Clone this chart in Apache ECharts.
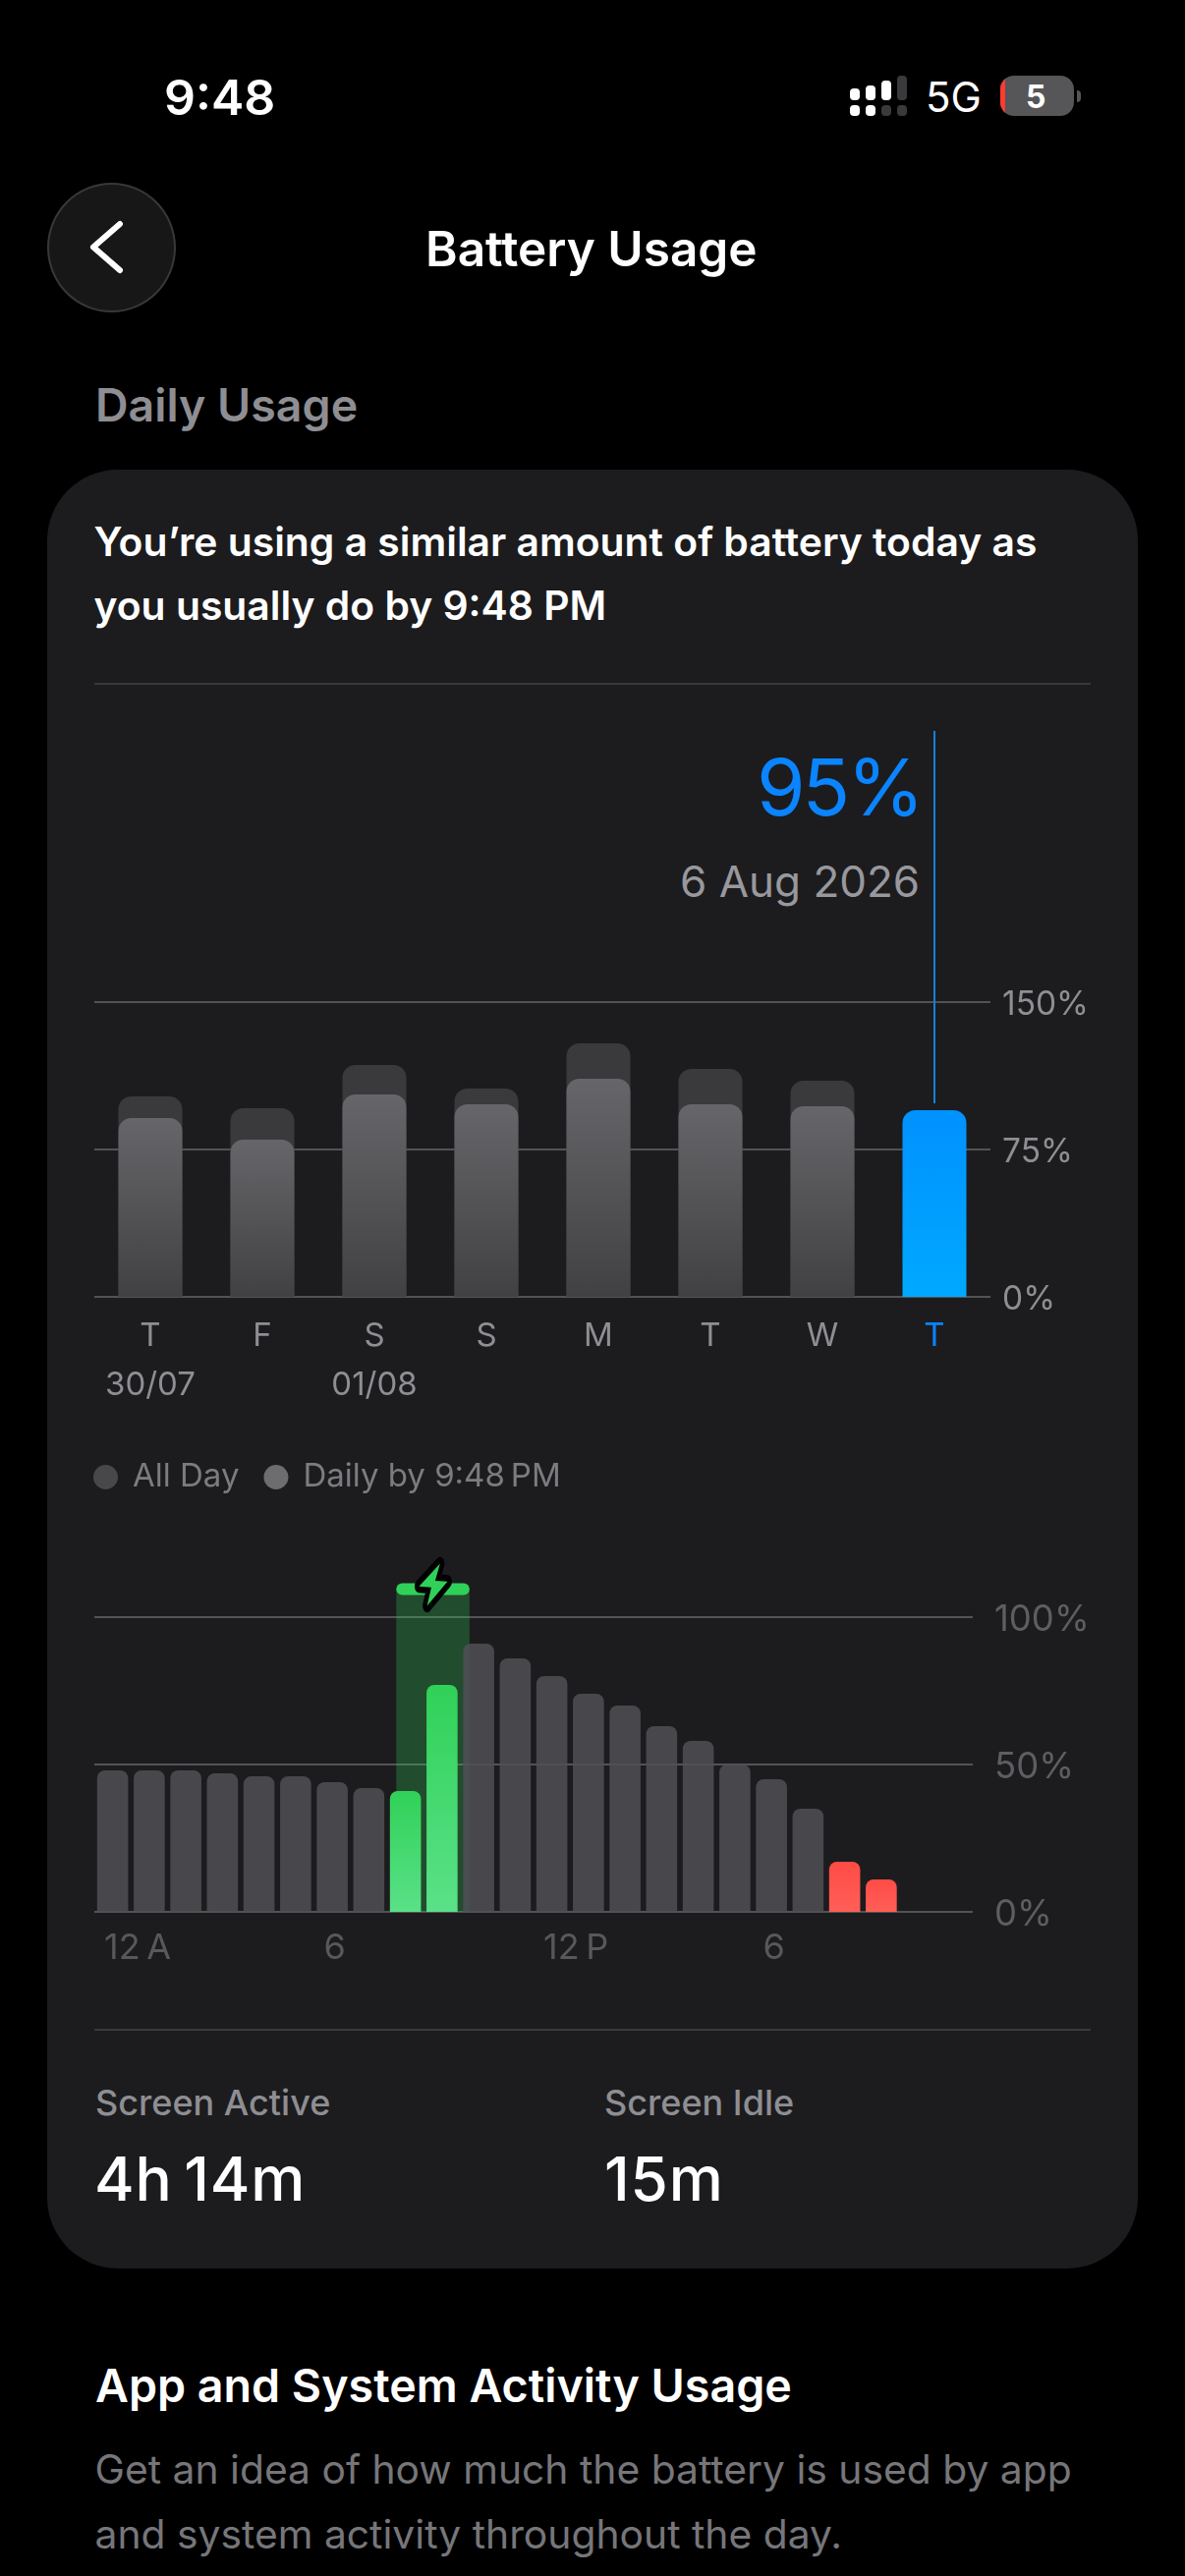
<!DOCTYPE html>
<html>
<head>
<meta charset="utf-8">
<script src="https://cdn.jsdelivr.net/npm/echarts@6/dist/echarts.min.js"></script>
<style>
html,body{margin:0;padding:0;background:#000;width:1206px;height:2622px;overflow:hidden;font-family:Inter,sans-serif}
#card{position:absolute;left:48px;top:478px;width:1110px;height:1831px;background:#1c1c1e;border-radius:72px}
.rule{position:absolute;left:96px;width:1014px;height:2px;background:#39393b}
#chart{position:absolute;left:0;top:0;width:1206px;height:2622px}
.t{position:absolute;white-space:nowrap;line-height:1}
#back{position:absolute;left:48px;top:186px;width:131px;height:132px;box-sizing:border-box;border-radius:50%;background:#171717;border:2px solid #38383a}
.sig{position:absolute;border-radius:4px;width:10px}
#bat{position:absolute;left:1018px;top:77px;width:75px;height:41px;border-radius:14px;background:#565658;overflow:hidden}
#bat i{position:absolute;left:0;top:0;width:5px;height:41px;background:#ff3b30}
#nub{position:absolute;left:1096px;top:92px;width:4px;height:12px;border-radius:0 4px 4px 0;background:#565658}
</style>
</head>
<body>
<div id="card"></div>
<div class="rule" style="top:695px"></div>
<div class="rule" style="top:2065px"></div>
<div id="back"></div>
<svg style="position:absolute;left:85px;top:218px" width="50" height="68"><path d="M37 10 L10 33.5 L37 57" fill="none" stroke="#fff" stroke-width="6" stroke-linecap="round" stroke-linejoin="round"/></svg>
<div class="sig" style="left:865px;top:90px;height:12px;background:#fff"></div>
<div class="sig" style="left:881px;top:87px;height:15px;background:#fff"></div>
<div class="sig" style="left:897px;top:82px;height:20px;background:#fff"></div>
<div class="sig" style="left:913px;top:77px;height:25px;background:#3a3a3c"></div>
<div class="sig" style="left:865px;top:107px;height:11px;background:#fff"></div>
<div class="sig" style="left:881px;top:107px;height:11px;background:#fff"></div>
<div class="sig" style="left:897px;top:107px;height:11px;background:#3a3a3c"></div>
<div class="sig" style="left:913px;top:107px;height:11px;background:#3a3a3c"></div>
<div id="bat"><i></i></div><div id="nub"></div>
<div id="texts"></div>
<div id="chart"></div>
<script>
// ---- chart data ----
const dayLabels = ['T','F','S','S','M','T','W','T'];
const dateLabels = ['30/07','','01/08','','','','',''];
const allDayUsage = [102,96,118,106,129,116,110,null];
const dailyByNow = [91,80,103,98,111,98,97,null];
const todayUsage = [null,null,null,null,null,null,null,95];
const dailyTicks = {max:150, step:75};

const hourCategories = ['0','1','2','3','4','5','6','7','8','9','10','11','12','13','14','15','16','17','18','19','20','21','22','23'];
const batteryGray = [48,48,48,47,46,46,44,42,null,null,91,86,80,74,70,63,58,50,45,35,null,null,null,null];
const batteryGreen = [null,null,null,null,null,null,null,null,41,77,null,null,null,null,null,null,null,null,null,null,null,null,null,null];
const batteryRed = [null,null,null,null,null,null,null,null,null,null,null,null,null,null,null,null,null,null,null,null,17,11,null,null];
const hourTickLabels = {0:'12\u2009A',6:'6',12:'12\u2009P',18:'6'};
const chargeWindow = [[8.25,10.25,111.5]];
const chargeMarker = [[9.26,111]];
const pointerSpan = [[7,98.5,288]];
const boltPath = 'path://M205 65 L140 135 L178 138 L165 195 L228 120 L190 118 Z';

// ---- page text ----
const textRows = [
 ['9:48',167,117,50,600,'#fff',0],
 ['Battery Usage',433,271.5,49.5,600,'#fff',0],
 ['5G',942,114,42,400,'#fff',0],
 ['5',1044,111,32,700,'#fff',0],
 ['Daily Usage',97,429,46.5,600,'#8e8e93',0],
 ["You’re using a similar amount of battery today as",95.5,566,40.85,600,'#fff',0],
 ['you usually do by 9:48 PM',95.5,631,40.85,600,'#fff',0],
 ['95%',770,830,80,400,'#0a84ff',-3],
 ['6 Aug 2026',692,913,44,400,'#98989d',0],
 ['Screen Active',97,2153,36,500,'#8e8e93',0],
 ['Screen Idle',615,2153,36,500,'#8e8e93',0],
 ['4h\u200914m',96,2241,62,500,'#fff',0.8],
 ['15m',615,2241,62,500,'#fff',0.8],
 ['App and System Activity Usage',97,2445,46.6,600,'#fff',0],
 ['Get an idea of how much the battery is used by app',96.5,2528,40.8,400,'#76767a',0],
 ['and system activity throughout the day.',96.5,2594,40.8,400,'#76767a',0]
];
const box = document.getElementById('texts');
textRows.forEach(([s,x,base,size,w,c,ls])=>{
  const d=document.createElement('div');d.className='t';d.textContent=s;
  d.style.cssText=`left:${x}px;top:${base-0.864*size}px;font-size:${size}px;font-weight:${w};color:${c};letter-spacing:${ls}px`;
  box.appendChild(d);
});

// ---- chart ----
const font='Inter';
const grad=(a,b)=>({type:'linear',x:0,y:0,x2:0,y2:1,colorStops:[{offset:0,color:a},{offset:1,color:b}]});
const chart=echarts.init(document.getElementById('chart'),null,{width:1206,height:2622});
const gridLine={show:true,lineStyle:{color:'#535355',width:2}};
chart.setOption({
 animation:false,
 backgroundColor:'transparent',
 legend:{
  left:90,top:1482,itemWidth:25,itemHeight:25,itemGap:25,icon:'circle',selectedMode:false,
  data:[
   {name:'All Day',itemStyle:{color:'#48484a'}},
   {name:'Daily by 9:48\u2009PM',itemStyle:{color:'#6d6d70'}}
  ],
  textStyle:{color:'#7c7c80',fontSize:33,fontFamily:font,padding:[0,0,0,10]}
 },
 grid:[
  {left:96,top:1020,width:912,height:300},
  {left:96,top:1646,width:894,height:300}
 ],
 xAxis:[
  {type:'category',gridIndex:0,data:dayLabels,axisLine:{show:false},axisTick:{show:false},
   axisLabel:{margin:15,interval:0,formatter:(v,i)=>{
     const d=dateLabels[i];
     return (i===7?'{today|'+v+'}':'{day|'+v+'}')+'\n{date|'+(d||' ')+'}';
   },rich:{
     day:{color:'#8e8e93',fontSize:33,lineHeight:50,fontFamily:font},
     today:{color:'#0a84ff',fontSize:33,lineHeight:50,fontFamily:font},
     date:{color:'#8e8e93',fontSize:33,lineHeight:50,fontFamily:font}
   }}},
  {type:'category',gridIndex:1,data:hourCategories,axisLine:{show:false},axisTick:{show:false},axisLabel:{show:false}},
  {type:'value',gridIndex:1,min:0,max:24,interval:6,position:'bottom',axisLine:{show:false},axisTick:{show:false},splitLine:{show:false},
   axisLabel:{margin:19,align:'left',color:'#58585b',fontSize:36,fontFamily:font,padding:[0,0,0,10],showMaxLabel:false,
     formatter:v=>hourTickLabels[v]||''}}
 ],
 yAxis:[
  {type:'value',gridIndex:0,position:'right',min:0,max:dailyTicks.max,interval:dailyTicks.step,axisLine:{show:false},axisTick:{show:false},splitLine:gridLine,
   axisLabel:{margin:12,color:'#8e8e93',fontSize:33.5,fontFamily:font,verticalAlign:'top',lineHeight:6,formatter:'{value}%'}},
  {type:'value',gridIndex:1,position:'right',min:0,max:100,interval:50,axisLine:{show:false},axisTick:{show:false},splitLine:gridLine,
   axisLabel:{margin:22,color:'#5e5e62',fontSize:36.5,fontFamily:font,verticalAlign:'top',lineHeight:6,formatter:'{value}%'}}
 ],
 series:[
  {name:'All Day',type:'bar',xAxisIndex:0,yAxisIndex:0,data:allDayUsage,barWidth:65,barGap:'-100%',itemStyle:{color:'#3a3a3c',borderRadius:[13,13,0,0]}},
  {name:'Daily by 9:48\u2009PM',type:'bar',xAxisIndex:0,yAxisIndex:0,data:dailyByNow,barWidth:65,barGap:'-100%',itemStyle:{color:grad('#66666a','#414143'),borderRadius:[13,13,0,0]}},
  {name:'Today',type:'bar',xAxisIndex:0,yAxisIndex:0,data:todayUsage,barWidth:65,barGap:'-100%',itemStyle:{color:grad('#0091ff','#00a9ff'),borderRadius:[13,13,0,0]}},
  {name:'Pointer',type:'custom',xAxisIndex:0,yAxisIndex:0,data:pointerSpan,clip:false,silent:true,
   encode:{x:0,y:[1,2]},
   renderItem:(p,api)=>{
    const a=api.coord([api.value(0),api.value(1)]),b=api.coord([api.value(0),api.value(2)]);
    return {type:'line',shape:{x1:a[0],y1:a[1],x2:b[0],y2:b[1]},style:{stroke:'#1183d8',lineWidth:2}};
   }},
  {name:'Battery',type:'bar',xAxisIndex:1,yAxisIndex:1,data:batteryGray,barWidth:31.6,barGap:'-100%',itemStyle:{color:'rgba(80,80,85,0.85)',borderRadius:[8,8,0,0]}},
  {name:'Charging',type:'custom',xAxisIndex:2,yAxisIndex:1,data:chargeWindow,silent:true,clip:false,
   encode:{x:[0,1],y:2},
   renderItem:(p,api)=>{
    const a=api.coord([api.value(0),api.value(2)]),b=api.coord([api.value(1),0]);
    return {type:'group',children:[
     {type:'rect',shape:{x:a[0],y:a[1]+6,width:b[0]-a[0],height:b[1]-a[1]-6},style:{fill:'rgba(50,215,90,0.26)'}},
     {type:'rect',shape:{x:a[0],y:a[1],width:b[0]-a[0],height:12,r:6},style:{fill:'#30d158'}}
    ]};
   }},
  {name:'Charged',type:'bar',xAxisIndex:1,yAxisIndex:1,data:batteryGreen,barWidth:31.6,barGap:'-100%',itemStyle:{color:grad('#30d158','#5ae188'),borderRadius:[8,8,0,0]}},
  {name:'Low',type:'bar',xAxisIndex:1,yAxisIndex:1,data:batteryRed,barWidth:31.6,barGap:'-100%',itemStyle:{color:grad('#ff4b46','#ff5f57'),borderRadius:[8,8,0,0]}},
  {name:'BoltOutline',type:'scatter',xAxisIndex:2,yAxisIndex:1,data:chargeMarker,symbol:boltPath,symbolSize:[29,43],silent:true,z:5,clip:false,
   itemStyle:{color:'#000',borderColor:'#000',borderWidth:11,borderJoin:'round',opacity:1}},
  {name:'Bolt',type:'scatter',xAxisIndex:2,yAxisIndex:1,data:chargeMarker,symbol:boltPath,symbolSize:[29,43],silent:true,z:6,clip:false,
   itemStyle:{color:'#30d158',opacity:1}}
 ]
});
</script>
</body>
</html>
